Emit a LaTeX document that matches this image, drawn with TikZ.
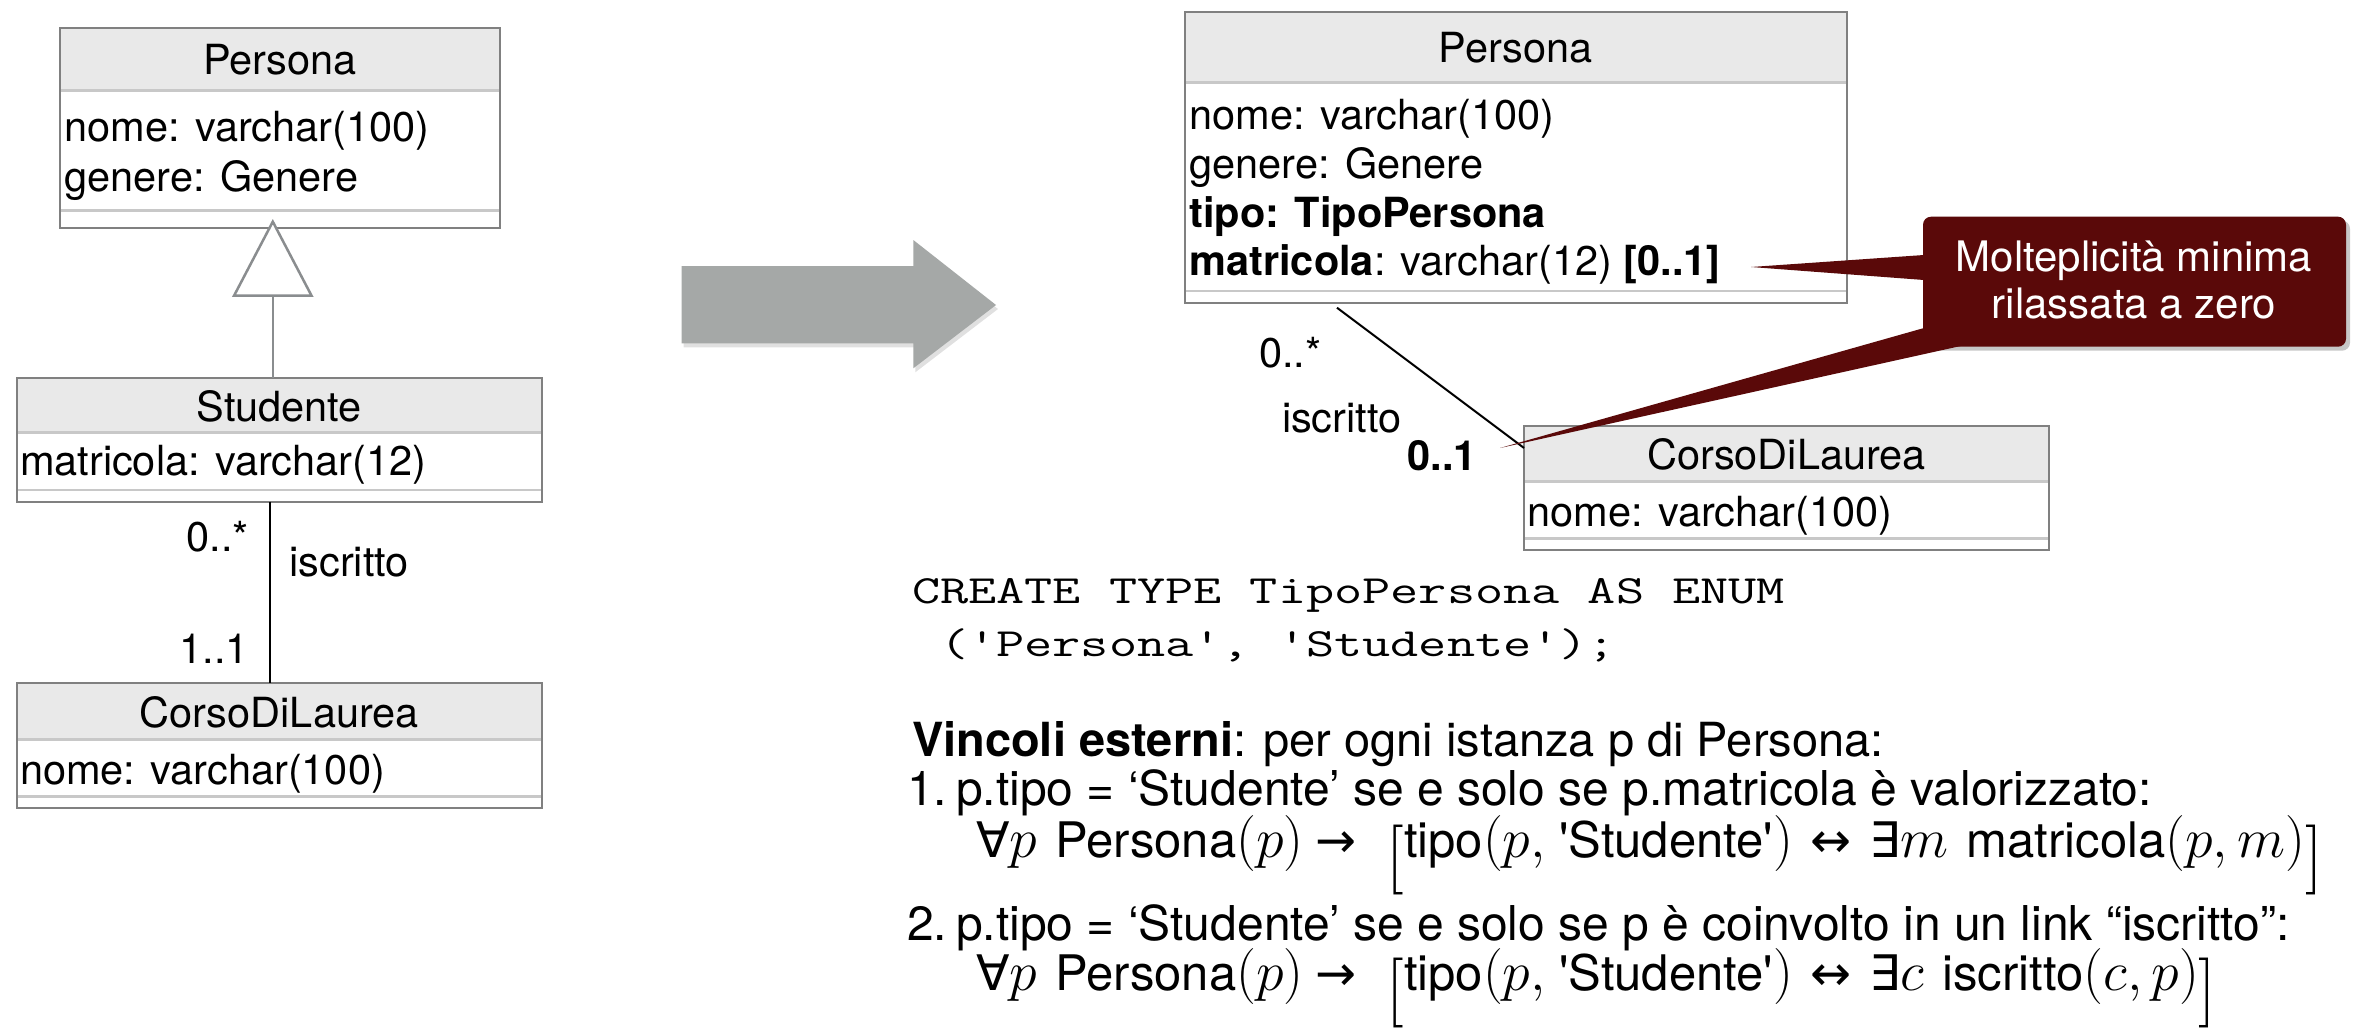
\RequirePackage{fix-cm}
\documentclass[tikz,border=0pt]{standalone}
\usepackage[no-math]{fontspec}
\setmainfont{TeX Gyre Heros}
\newfontfamily\symf{DejaVu Sans}
\usetikzlibrary{calc}
\definecolor{boxgray}{HTML}{808080}
\definecolor{sepgray}{HTML}{C8C8C8}
\definecolor{hdrfill}{HTML}{E9E9E9}
\definecolor{gengray}{HTML}{8A8D8F}
\definecolor{arrowgray}{HTML}{A5A8A7}
\definecolor{calloutred}{HTML}{5A0909}
\tikzset{
  umltext/.style={font=\fontsize{41.5}{50}\selectfont, inner sep=0pt, outer sep=0pt},
  maintext/.style={font=\fontsize{47}{56}\selectfont, inner sep=0pt, outer sep=0pt},
  itemtext/.style={font=\fontsize{48}{56}\selectfont, inner sep=0pt, outer sep=0pt},
  formtext/.style={font=\fontsize{49}{56}\selectfont, inner sep=0pt, outer sep=0pt},
  codetext/.style={font=\ttfamily\fontsize{40}{50}\selectfont, inner sep=0pt, outer sep=0pt},
  callouttext/.style={font=\fontsize{42}{46}\selectfont, text=white, inner sep=0pt, outer sep=0pt},
  classbox/.style={inner sep=0pt, outer sep=0pt},
  boxline/.style={draw=boxgray, line width=2pt},
  sepline/.style={draw=sepgray, line width=2.5pt},
  genline/.style={draw=gengray, line width=2.5pt},
  assocline/.style={draw=black, line width=2pt},
  calloutbox/.style={fill=calloutred, rounded corners=8pt, inner sep=0pt, outer sep=0pt},
}
\newcommand{\umlclassbox}[7]{%
  \node[classbox, minimum width=#4, minimum height=#5, anchor=north west] (#1) at (#2,#3) {};
  \fill[hdrfill] (#1.north west) rectangle ($(#1.north east)+(0,#6)$);
  \draw[sepline] ($(#1.north west)+(0,#6)$) -- ($(#1.north east)+(0,#6)$);
  \draw[sepline] ($(#1.north west)+(0,#7)$) -- ($(#1.north east)+(0,#7)$);
  \draw[boxline] (#1.north west) rectangle (#1.south east);
}
\newcommand{\sq}{\textquotesingle}
\newcommand{\lbrk}{\raisebox{-20pt}{\fontsize{70}{70}\selectfont$[$}}
\newcommand{\rbrk}{\raisebox{-20pt}{\fontsize{70}{70}\selectfont$]$}}
\newcommand{\mth}[1]{{\fontsize{56}{56}\selectfont$#1$}}
\newcommand{\fsp}{\hspace{18pt}}
\begin{document}
\begin{tikzpicture}[x=1pt,y=-1pt]
\useasboundingbox (0,0) rectangle (2360,1030);
\fill[white] (0,0) rectangle (2360,1030);

% ---------------- left diagram ----------------
\umlclassbox{P1}{60.4}{27.7}{439.2}{200.6}{63}{183}
\umlclassbox{S1}{17}{377.7}{524.6}{124}{54.6}{112.3}
\umlclassbox{C1}{17}{683.3}{524.6}{125}{56}{113.4}

\node[umltext] (P1t) at (280,59.5) {Persona};
\node[umltext, anchor=base west] (P1a) at (64.5,142) {nome: varchar(100)};
\node[umltext, anchor=base west] (P1b) at (64.5,191.5) {genere: Genere};

\node[umltext] (S1t) at (279.3,406) {Studente};
\node[umltext, anchor=base west] (S1a) at (20,475) {matricola: varchar(12)};

\node[umltext] (C1t) at (279.3,712) {CorsoDiLaurea};
\node[umltext, anchor=base west] (C1a) at (20,784) {nome: varchar(100)};

% generalization
\coordinate (genTip) at ($(P1.south)+(-7.2,-6.6)$);
\coordinate (genBase) at ($(genTip)+(0,74)$);
\draw[genline] (genBase) -- (S1.north -| genBase);
\draw[genline, fill=white, line join=miter] (genTip) -- ++(38.75,74) -- ++(-77.5,0) -- cycle;

% association left
\coordinate (assocL) at ($(S1.south)+(-9.8,0)$);
\draw[assocline] (assocL) -- (C1.north -| assocL);
\node[umltext, anchor=base east] (m1) at (249,551.7) {0..*};
\node[umltext, anchor=base west] (r1) at (289.4,576.7) {iscritto};
\node[umltext, anchor=base east] (m2) at (249,663) {1..1};

% ---------------- big gray arrow ----------------
\fill[black, opacity=0.12] (683.7,270) -- (915.3,270) -- (915.3,244) -- (998,309) -- (915.3,372.3) -- (915.3,347.3) -- (683.7,347.3) -- cycle;
\fill[arrowgray] (681.7,266) -- (913.3,266) -- (913.3,240) -- (996,305) -- (913.3,368.3) -- (913.3,343.3) -- (681.7,343.3) -- cycle;

% ---------------- right diagram ----------------
\umlclassbox{P2}{1184.6}{11.7}{662}{291}{71}{279.3}
\umlclassbox{C2}{1524}{425.7}{525}{124.3}{56}{112.6}

\node[umltext] (P2t) at (1515.6,47.5) {Persona};
\node[umltext, anchor=base west] (P2a) at (1189.5,130) {nome: varchar(100)};
\node[umltext, anchor=base west] (P2b) at (1189.5,178.5) {genere: Genere};
\node[umltext, anchor=base west] (P2c) at (1189.5,227) {\textbf{tipo: TipoPersona}};
\node[umltext, anchor=base west] (P2d) at (1189.5,275.5) {\textbf{matricola}: varchar(12) \textbf{[0..1]}};

\node[umltext] (C2t) at (1786.5,454) {CorsoDiLaurea};
\node[umltext, anchor=base west] (C2a) at (1527.5,526) {nome: varchar(100)};

\coordinate (assocR1) at ($(P2.south west)+(152.4,5)$);
\coordinate (assocR2) at ($(C2.north west)+(0,22.3)$);
\draw[assocline] (assocR1) -- (assocR2);
\node[umltext, anchor=base west] (m3) at (1259,367) {0..*};
\node[umltext, anchor=base west] (r2) at (1282,432) {iscritto};
\node[umltext, anchor=base east] (m4) at (1477,470) {\textbf{0..1}};

% ---------------- callout ----------------
\fill[black, opacity=0.22, rounded corners=8pt] (1926,220.7) rectangle (2350,350.7);
\node[calloutbox, minimum width=423, minimum height=130, anchor=north west] (CB) at (1923,216.7) {};
\coordinate (tip1) at ($(P2.south east)+(-95.6,-35.7)$);
\coordinate (tip2) at ($(C2.north west)+(-24,22.3)$);
\fill[calloutred] ($(CB.north west)+(1,38.3)$) -- (tip1) -- ($(CB.north west)+(1,63.3)$) -- cycle;
\fill[calloutred] ($(CB.north west)+(1,111.3)$) -- (tip2) -- ($(CB.south west)+(39,-1)$) -- cycle;
\node[callouttext, anchor=base] (CT1) at (2134,271.7) {Molteplicità minima};
\node[callouttext, anchor=base] (CT2) at (2134,318) {rilassata a zero};

% ---------------- code and constraints ----------------
\node[codetext, anchor=base west] (code1) at (912,603) {\scalebox{1.367}[1]{CREATE TYPE TipoPersona AS ENUM}};
\node[codetext, anchor=base west] (code2) at (912,656) {\scalebox{1.367}[1]{\phantom{A}(\sq Persona\sq, \sq Studente\sq);}};

\node[maintext, anchor=base west] (vinc) at (912,756) {\textbf{Vincoli esterni}: per ogni istanza p di Persona:};
\node[itemtext, anchor=base west] (n1) at (907,805) {1.};
\node[itemtext, anchor=base west] (t1) at (956,805) {p.tipo = ‘Studente’ se e solo se p.matricola è valorizzato:};
\node[formtext, anchor=base west] (f1) at (976,857) {{\symf ∀}\mth{p}\fsp Persona\mth{(p)}\hspace{12pt}{\symf →}\hspace{30pt}\lbrk tipo\mth{(p,}\ \sq Studente\sq\mth{)}\fsp{\symf ↔}\fsp{\symf ∃}\mth{m}\fsp matricola\mth{(p,m)}\rbrk};
\node[itemtext, anchor=base west] (n2) at (907,940) {2.};
\node[itemtext, anchor=base west] (t2) at (956,940) {p.tipo = ‘Studente’ se e solo se p è coinvolto in un link “iscritto”:};
\node[formtext, anchor=base west] (f2) at (976,990) {{\symf ∀}\mth{p}\fsp Persona\mth{(p)}\hspace{12pt}{\symf →}\hspace{30pt}\lbrk tipo\mth{(p,}\ \sq Studente\sq\mth{)}\fsp{\symf ↔}\fsp{\symf ∃}\mth{c}\fsp iscritto\mth{(c,p)}\rbrk};
\end{tikzpicture}
\end{document}
